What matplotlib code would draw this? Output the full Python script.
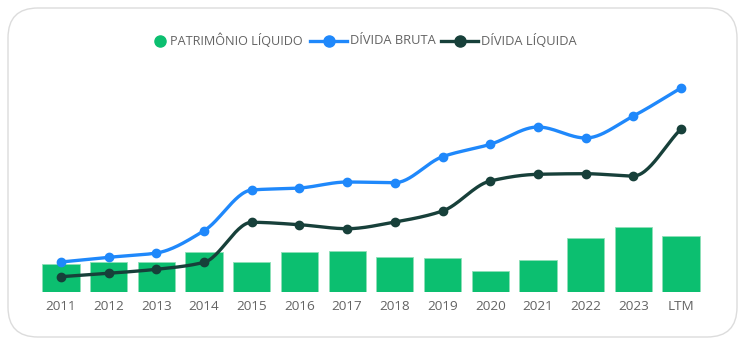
import numpy as np
import matplotlib
matplotlib.use("Agg")
import matplotlib.pyplot as plt
from matplotlib.patches import FancyBboxPatch
from matplotlib.lines import Line2D

plt.rcParams["font.family"] = ["Open Sans", "DejaVu Sans"]

anos = ["2011", "2012", "2013", "2014", "2015", "2016", "2017",
        "2018", "2019", "2020", "2021", "2022", "2023", "LTM"]
patrimonio = [28, 30, 30, 39.7, 30, 40, 40.7, 35.3, 34, 21.3, 32.3, 53.7, 65, 56]
divida_bruta = [30, 34.7, 39, 61.3, 102, 104, 110, 109.3, 135.3, 147.7, 165, 154, 176, 204]
divida_liquida = [15.3, 18.7, 22.7, 29.7, 69.7, 67.3, 63.3, 70, 81, 111, 117.7, 118.3, 116, 163]

C_PL = "#0cbf70"
C_DB = "#1f88fb"
C_DL = "#17403a"
C_TXT = "#636363"


def smooth(xs, ys, n=30):
    # monotone cubic hermite between points, just for drawing a smooth line
    xs = np.asarray(xs, float)
    ys = np.asarray(ys, float)
    h = np.diff(xs)
    d = np.diff(ys) / h
    m = np.zeros_like(ys)
    m[0], m[-1] = d[0], d[-1]
    for i in range(1, len(ys) - 1):
        if d[i - 1] * d[i] <= 0:
            m[i] = 0
        else:
            m[i] = 2 / (1 / d[i - 1] + 1 / d[i])
    px, py = [], []
    for i in range(len(xs) - 1):
        t = np.linspace(0, 1, n)
        h00 = 2 * t**3 - 3 * t**2 + 1
        h10 = t**3 - 2 * t**2 + t
        h01 = -2 * t**3 + 3 * t**2
        h11 = t**3 - t**2
        px.extend(xs[i] + t * h[i])
        py.extend(h00 * ys[i] + h10 * h[i] * m[i] + h01 * ys[i + 1] + h11 * h[i] * m[i + 1])
    return np.array(px), np.array(py)


W, H = 746, 345
fig = plt.figure(figsize=(W / 100, H / 100), dpi=100)

card = FancyBboxPatch((8 / W, 8 / H), 729 / W, 329 / H,
                      boxstyle="round,pad=0,rounding_size=0.04",
                      transform=fig.transFigure, facecolor="white",
                      edgecolor="#dcdcdc", linewidth=1.0, mutation_aspect=W / H,
                      zorder=-10)
fig.patches.append(card)

# axes: categories 61..681 px, baseline at 292 px, top at 72 px
step = (681 - 61) / 13
left = 61 - step / 2
right = 681 + step / 2
ax = fig.add_axes([left / W, (H - 292) / H, (right - left) / W, 220 / H])
ax.set_zorder(5)
ax.set_xlim(-0.5, 13.5)
ax.set_ylim(0, 220)
ax.patch.set_alpha(0)

x = np.arange(len(anos))
ax.bar(x, patrimonio, width=0.78, color=C_PL, edgecolor="#8ee0b8", linewidth=0.6, zorder=2)

for vals, col in [(divida_bruta, C_DB), (divida_liquida, C_DL)]:
    sx, sy = smooth(x, vals)
    ax.plot(sx, sy, color=col, linewidth=2.4, zorder=3, solid_capstyle="round")
    ax.plot(x, vals, "o", color=col, markersize=6, zorder=4)

for s in ax.spines.values():
    s.set_visible(False)
ax.set_yticks([])
ax.set_xticks(x)
ax.set_xticklabels(anos, fontsize=9.7, color=C_TXT)
ax.tick_params(axis="x", length=0, pad=6)

# legend drawn by hand in pixel positions
def fx(px):
    return px / W

ly = 1 - 41 / H
fig.add_artist(Line2D([fx(160)], [ly], marker="o", color=C_PL, markersize=8,
                      linestyle="none", transform=fig.transFigure))
fig.text(fx(170), ly, "PATRIMÔNIO LÍQUIDO", fontsize=9.1, color=C_TXT, va="center")
for x0, x1, col, txt in [(310, 347, C_DB, "DÍVIDA BRUTA"), (441, 478, C_DL, "DÍVIDA LÍQUIDA")]:
    fig.add_artist(Line2D([fx(x0), fx(x1)], [ly, ly], color=col, linewidth=2.4,
                          transform=fig.transFigure))
    fig.add_artist(Line2D([fx((x0 + x1) / 2)], [ly], marker="o", color=col, markersize=8,
                          linestyle="none", transform=fig.transFigure))
    fig.text(fx(x1 + 3), ly, txt, fontsize=9.3, color=C_TXT, va="center")

fig.savefig("out.png", dpi=100)
